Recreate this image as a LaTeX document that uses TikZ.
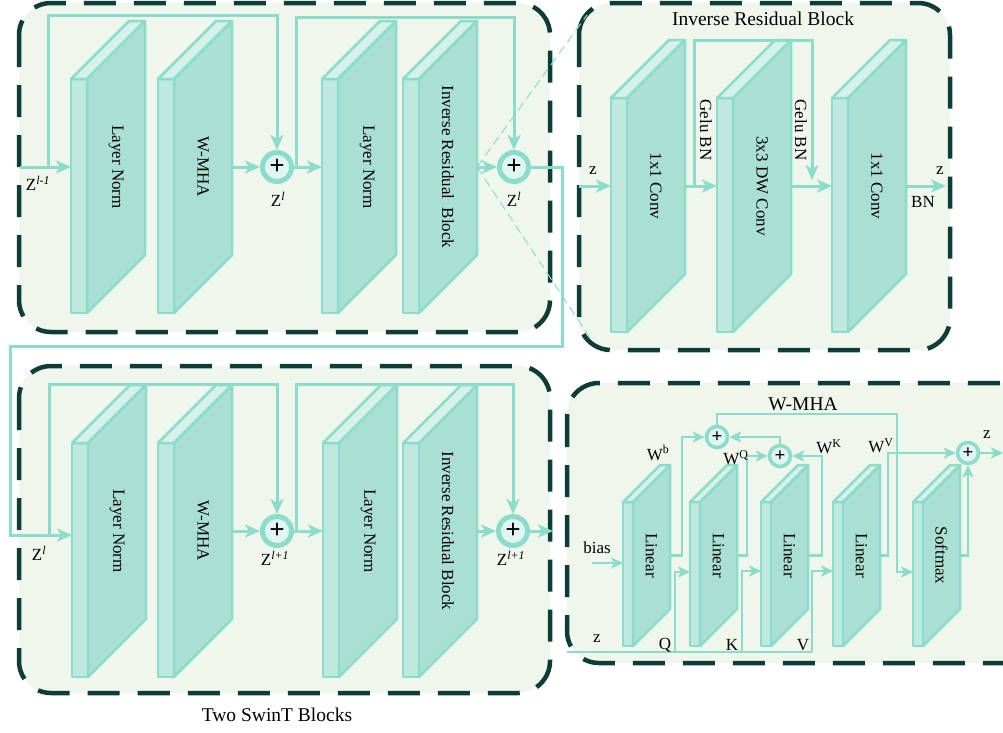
\documentclass[tikz,border=0pt]{standalone}
\usepackage{fontspec}
\setmainfont{Liberation Serif}
\usepackage{tikz}
\usetikzlibrary{arrows.meta,calc}
\definecolor{PanelFill}{HTML}{EFF6EC}
\definecolor{PanelEdge}{HTML}{0E3C37}
\definecolor{Wire}{HTML}{8CDCCB}
\definecolor{SlabFront}{HTML}{BFE8DE}
\definecolor{SlabSide}{HTML}{A9E0D3}
\definecolor{SlabTop}{HTML}{D5F1EA}
\definecolor{SumFill}{HTML}{E1F6F2}
\newcommand{\lblfont}{\fontsize{17}{20}\selectfont}
% #1 name, #2 x, #3 y, #4 front width, #5 height, #6 depth, #7 text
\newcommand{\drawslab}[7]{%
  \draw[slabedge, fill=SlabFront] (#2,#3) rectangle ++(#4,#5);
  \draw[slabedge, fill=SlabTop] (#2,#3) -- ++(#6,-#6) -- ++(#4,0) -- ++(-#6,#6) -- cycle;
  \draw[slabedge, fill=SlabSide] (#2+#4,#3) -- ++(#6,-#6) -- ++(0,#5) -- ++(-#6,#6) -- cycle;
  \coordinate (#1-nw) at (#2,#3);
  \coordinate (#1-ne) at (#2+#4+#6,#3-#6);
  \coordinate (#1-e) at (#2+#4+#6,#3+#5/2-#6/2);
  \node[slabtext] (#1) at (#2+#4+#6/2,#3+#5/2-#6/2) {#7};
}

\begin{document}
\begin{tikzpicture}[
  x=1pt, y=-1pt,
  panel/.style={draw=PanelEdge, line width=4.5pt, dash pattern=on 32pt off 18pt, fill=PanelFill, rounded corners=32pt},
  slabedge/.style={draw=Wire, line width=2.5pt, line join=round},
  slabtext/.style={rotate=-90, font=\lblfont, inner sep=0pt},
  wire/.style={draw=Wire, line width=3pt},
  arrow/.style={wire, -{Stealth[length=15pt,width=13pt,inset=4pt]}},
  wiresm/.style={draw=Wire, line width=2.5pt},
  arrowsm/.style={wiresm, -{Stealth[length=12pt,width=11pt,inset=3pt]}},
  sum/.style={circle, draw=Wire, line width=5pt, fill=SumFill, minimum size=29pt, inner sep=0pt, font=\fontsize{27}{27}\selectfont\bfseries},
  sumsm/.style={sum, line width=3.5pt, minimum size=21pt, font=\fontsize{19}{19}\selectfont\bfseries},
  lbl/.style={font=\lblfont, inner sep=1pt},
  title/.style={font=\fontsize{19.5}{22}\selectfont, inner sep=1pt},
  zoomline/.style={draw=Wire, line width=1pt, dash pattern=on 9pt off 5pt}
]
\useasboundingbox (0,0) rectangle (1003,732);
\clip (0,0) rectangle (1003,732);

% panels
\draw[panel] (19,3) rectangle (550,332);
\draw[panel] (579,3) rectangle (950,350);
\draw[panel] (19,366) rectangle (550,693);
\draw[panel] (567,383) rectangle (1040,663);

\node[title] (irbtitle) at (763,19) {Inverse Residual Block};
\node[title] (mhatitle) at (803,404) {W-MHA};
\node[title] (swintitle) at (277,715) {Two SwinT Blocks};

% first SwinT block
\drawslab{ln1}{71}{79}{16}{234}{58}{Layer Norm}
\drawslab{mha1}{158}{79}{16}{234}{58}{W-MHA}
\drawslab{ln2}{322}{79}{16}{234}{58}{Layer Norm}
\drawslab{irb1}{403}{79}{16}{234}{58}{Inverse Residual~~Block}

\node[sum] (add1) at (277,167) {+};
\node[sum] (add2) at (514,167) {+};

\coordinate (zin1) at (20,167);
\coordinate (br1) at (48,167);
\coordinate (br2) at (296,167);
\coordinate (loopA) at (562,167);
\coordinate (loopB) at (10,346);
\coordinate (irbc1) at (587,15);
\coordinate (irbc2) at (590,338);

\draw[zoomline] (irb1-ne |- add2) -- (irbc1);
\draw[zoomline] (irb1-ne |- add2) -- (irbc2);

\draw[arrow] (zin1) -- (zin1 -| ln1-nw);
\draw[arrow] (br1) -- ++(0,-152) -| (add1);
\draw[arrow] (mha1-ne |- add1) -- (add1);
\draw[arrow] (add1) -- (add1 -| ln2-nw);
\draw[arrow] (br2) -- ++(0,-150) -| (add2);
\draw[arrow] (irb1-ne |- add2) -- (add2);

\node[lbl] (zlab0) at (38,183) {Z\textsuperscript{\itshape l-1}};
\node[lbl] (zlab1) at (278,199) {Z\textsuperscript{\itshape l}};
\node[lbl] (zlab2) at (514,199) {Z\textsuperscript{\itshape l}};

% inverse residual block
\drawslab{conv1}{611}{98}{16}{234}{58}{1x1 Conv}
\drawslab{dwconv}{717}{98}{16}{234}{58}{3x3 DW Conv}
\drawslab{conv2}{832}{98}{16}{234}{58}{1x1 Conv}

\coordinate (irbin) at (579,186);
\coordinate (gelu1) at (694,186);
\coordinate (gelu2) at (812,180);
\coordinate (irbout) at (946,186);

\draw[arrow] (irbin) -- (irbin -| conv1-nw);
\draw[arrow] (conv1-ne |- irbin) -- (irbin -| dwconv-nw);
\draw[arrow] (gelu1) -- ++(0,-146) -| (gelu2);
\draw[arrow] (dwconv-ne |- irbin) -- (irbin -| conv2-nw);
\draw[arrow] (conv2-ne |- irbin) -- (irbout);

\node[lbl] (zirb1) at (593,171) {z};
\node[lbl] (zirb2) at (940,171) {z};
\node[lbl] (bnlab) at (923,202) {BN};
\node[slabtext] (gelulab1) at (706,130) {Gelu BN};
\node[slabtext] (gelulab2) at (801,130) {Gelu BN};

% second SwinT block
\drawslab{ln1b}{72}{443}{16}{234}{58}{Layer Norm}
\drawslab{mha1b}{158}{443}{16}{234}{58}{W-MHA}
\drawslab{ln2b}{323}{443}{16}{234}{58}{Layer Norm}
\drawslab{irb1b}{403}{443}{16}{234}{58}{Inverse Residual Block}

\node[sum] (add3) at (277,531) {+};
\node[sum] (add4) at (513,531) {+};

\coordinate (zin2) at (10,535);
\coordinate (br3) at (49,535);
\coordinate (br4) at (296,531);
\coordinate (swout) at (553,531);

\draw[arrow] (add2) -- (loopA) |- (loopB) |- (zin2 -| ln1b-nw);
\draw[arrow] (br3) -- ++(0,-151) -| (add3);
\draw[arrow] (mha1b-ne |- add3) -- (add3);
\draw[arrow] (add3) -- (add3 -| ln2b-nw);
\draw[arrow] (br4) -- ++(0,-147) -| (add4);
\draw[arrow] (irb1b-ne |- add4) -- (add4);
\draw[arrow] (add4) -- (swout);

\node[lbl] (zlab3) at (39,553) {Z\textsuperscript{\itshape l}};
\node[lbl] (zlab4) at (275,558) {Z\textsuperscript{\itshape l+1}};
\node[lbl] (zlab5) at (511,558) {Z\textsuperscript{\itshape l+1}};

% W-MHA
\drawslab{lin1}{623}{502}{10}{144}{37}{Linear}
\drawslab{lin2}{690}{502}{10}{144}{37}{Linear}
\drawslab{lin3}{761}{502}{10}{144}{37}{Linear}
\drawslab{lin4}{833}{502}{10}{144}{37}{Linear}
\drawslab{soft}{913}{502}{10}{144}{37}{Softmax}

\node[sumsm] (addA) at (717,437) {+};
\node[sumsm] (addB) at (780,456) {+};
\node[sumsm] (addC) at (968,453) {+};

\coordinate (biasin) at (592,563);
\coordinate (zqkv) at (567,652);
\coordinate (qtap) at (675,652);
\coordinate (ktap) at (742,652);
\coordinate (vtap) at (812,652);
\coordinate (smin) at (897,572);
\coordinate (mhaout) at (1003,453);

\draw[arrowsm] (biasin) -- (biasin -| lin1-nw);
\draw[wiresm] (zqkv) -- (vtap);
\draw[arrowsm] (qtap) -- ++(0,-80) coordinate (qin) -- (qin -| lin2-nw);
\draw[arrowsm] (ktap) -- ++(0,-81) coordinate (kin) -- (kin -| lin3-nw);
\draw[arrowsm] (vtap) -- ++(0,-81) coordinate (vin) -- (vin -| lin4-nw);
\draw[arrowsm] (lin1-e) -- ++(12,0) |- (addA);
\draw[arrowsm] (lin2-e) -- ++(10,0) |- (addB);
\draw[arrowsm] (lin3-e) -- ++(14,0) |- (addB);
\draw[arrowsm] (addB) |- (addA);
\draw[arrowsm] (addA.north) -- ++(0,-11) -| (smin) -- (smin -| soft-nw);
\draw[arrowsm] (lin4-e) -- ++(8,0) |- (addC);
\draw[arrowsm] (soft-e) -| (addC);
\draw[arrowsm] (addC) -- (mhaout);

\node[lbl] (biaslab) at (597,548) {bias};
\node[lbl] (zlabm) at (597,639) {z};
\node[lbl] (qlab) at (665,645) {Q};
\node[lbl] (klab) at (732,645) {K};
\node[lbl] (vlab) at (803,645) {V};
\node[lbl] (wblab) at (658,453) {W\textsuperscript{b}};
\node[lbl] (wqlab) at (736,458) {W\textsuperscript{Q}};
\node[lbl] (wklab) at (829,447) {W\textsuperscript{K}};
\node[lbl] (wvlab) at (881,446) {W\textsuperscript{V}};
\node[lbl] (zlabo) at (987,435) {z};
\end{tikzpicture}
\end{document}
